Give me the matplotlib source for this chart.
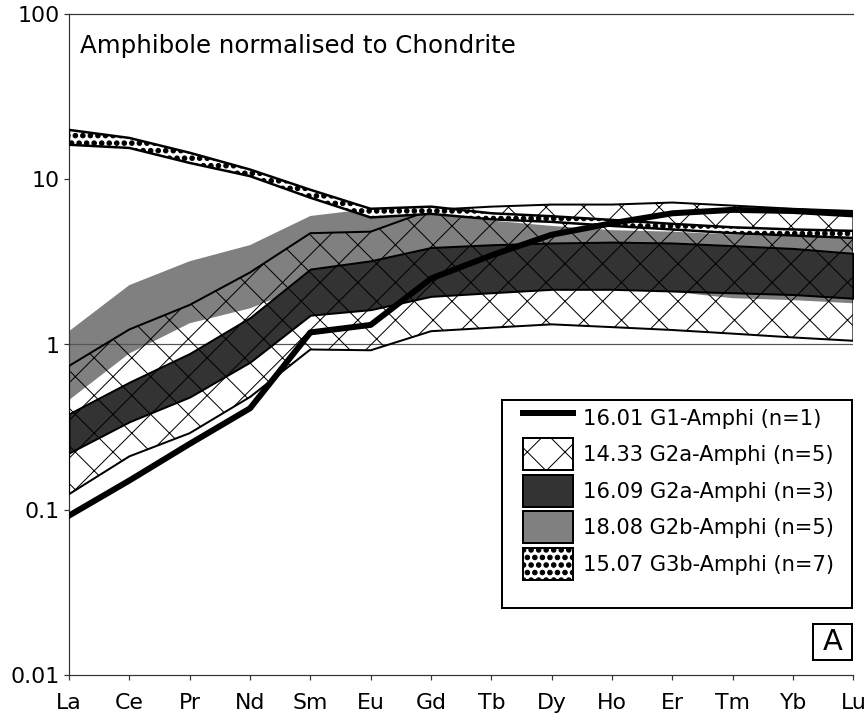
import matplotlib
matplotlib.use("Agg")
import matplotlib.pyplot as plt
import matplotlib.hatch as mhatch
import numpy as np
from matplotlib.lines import Line2D
from matplotlib.patches import Patch, Rectangle

# REE pattern, amphibole / chondrite
REE = ["La", "Ce", "Pr", "Nd", "Sm", "Eu", "Gd", "Tb", "Dy", "Ho", "Er", "Tm", "Yb", "Lu"]
YTICKS = [0.01, 0.1, 1, 10, 100]
YTICK_LABELS = ["0.01", "0.1", "1", "10", "100"]

LABELS = ["16.01 G1-Amphi (n=1)",
          "14.33 G2a-Amphi (n=5)",
          "16.09 G2a-Amphi (n=3)",
          "18.08 G2b-Amphi (n=5)",
          "15.07 G3b-Amphi (n=7)"]

# 16.01 G1 (single analysis)
g1_1601 = [0.092, 0.15, 0.25, 0.41, 1.18, 1.31, 2.5, 3.45, 4.6, 5.4, 6.2, 6.5, 6.4, 6.1]

# 14.33 G2a, min / max envelope
g2a_1433_lo = [0.124, 0.21, 0.29, 0.48, 0.93, 0.92, 1.2, 1.26, 1.32, 1.27, 1.22, 1.16, 1.1, 1.05]
g2a_1433_hi = [0.74, 1.23, 1.73, 2.72, 4.7, 4.8, 6.5, 6.8, 7.0, 7.0, 7.2, 6.9, 6.6, 6.4]

# 16.09 G2a, min / max envelope
g2a_1609_lo = [0.22, 0.34, 0.48, 0.78, 1.5, 1.62, 1.95, 2.05, 2.15, 2.15, 2.1, 2.05, 2.0, 1.9]
g2a_1609_hi = [0.38, 0.59, 0.88, 1.45, 2.85, 3.2, 3.85, 4.0, 4.1, 4.15, 4.1, 3.95, 3.8, 3.55]

# 18.08 G2b, min / max envelope
g2b_1808_lo = [0.46, 0.88, 1.34, 1.65, 2.3, 2.5, 2.5, 2.4, 2.3, 2.2, 2.08, 1.9, 1.85, 1.77]
g2b_1808_hi = [1.2, 2.28, 3.18, 3.98, 5.97, 6.6, 6.1, 5.6, 5.2, 4.9, 4.8, 4.6, 4.5, 4.45]

# 15.07 G3b, min / max envelope
g3b_1507_lo = [16.1, 15.4, 12.5, 10.4, 7.7, 5.85, 6.15, 5.7, 5.5, 5.2, 4.95, 4.7, 4.55, 4.4]
g3b_1507_hi = [19.8, 17.7, 14.4, 11.4, 8.6, 6.6, 6.8, 6.2, 5.95, 5.65, 5.35, 5.1, 4.95, 4.85]

DPI = 226          # hatch cell = 1 inch, so this sets the diamond size
PX = 72 / DPI      # one pixel in points

plt.rcParams["font.family"] = ["DejaVu Sans"]
plt.rcParams["hatch.linewidth"] = 1.0 * PX
mhatch.SmallFilledCircles.size = 0.3  # chunkier stipple dots

fig = plt.figure(figsize=(866.4 / DPI, 721.4 / DPI), dpi=DPI)
ax = fig.add_axes([69 / 866, 46 / 721, 784 / 866, 661 / 721])

x = np.arange(len(REE))

ax.fill_between(x, g2b_1808_lo, g2b_1808_hi, facecolor="#808080",
                edgecolor="none", zorder=1)
ax.axhline(1, color="#555555", lw=1.2 * PX, zorder=1.5)
ax.fill_between(x, g2a_1609_lo, g2a_1609_hi, facecolor="#333333",
                edgecolor="black", lw=2 * PX, zorder=2)
ax.fill_between(x, g2a_1433_lo, g2a_1433_hi, facecolor="none",
                edgecolor="black", hatch="xx", lw=2 * PX, zorder=3)
ax.fill_between(x, g3b_1507_lo, g3b_1507_hi, facecolor="white",
                edgecolor="black", hatch=".....", lw=2.5 * PX, zorder=4)
ax.plot(x, g1_1601, color="black", lw=6 * PX, zorder=5)

ax.set_yscale("log")
ax.set_ylim(0.01, 100)
ax.set_xlim(0, len(REE) - 1)
ax.set_yticks(YTICKS, YTICK_LABELS)
ax.yaxis.set_minor_locator(plt.NullLocator())
ax.set_xticks(x, REE)
ax.tick_params(direction="out", length=5 * PX, width=1.2 * PX, color="#333333",
               labelsize=22 * PX, pad=4 * PX)
ax.tick_params(axis="x", pad=13 * PX)

ax.spines["right"].set_visible(False)
for s in ["left", "bottom", "top"]:
    ax.spines[s].set_linewidth(1.2 * PX)
    ax.spines[s].set_color("#333333")

ax.text(11 / 784, (675 - 53) / 661, "Amphibole normalised to Chondrite",
        transform=ax.transAxes, fontsize=24.5 * PX, ha="left", va="baseline")

# legend: frame drawn separately so the box matches the original size
ax.add_patch(Rectangle((501.7 / 866, 1 - 608 / 721), 350 / 866, 208 / 721,
                       transform=fig.transFigure, facecolor="white",
                       edgecolor="black", lw=2 * PX, clip_on=False, zorder=9))
handles = [Line2D([], [], color="black", lw=6 * PX),
           Patch(facecolor="white", edgecolor="black", hatch="xx", lw=2 * PX),
           Patch(facecolor="#333333", edgecolor="black", lw=2 * PX),
           Patch(facecolor="#808080", edgecolor="black", lw=2 * PX),
           Patch(facecolor="white", edgecolor="black", hatch=".....", lw=2 * PX)]
leg = ax.legend(handles, LABELS, loc="upper left",
                bbox_to_anchor=(523 / 866, 1 - 402 / 721),
                bbox_transform=fig.transFigure, fontsize=21 * PX, frameon=False,
                handlelength=2.38, handleheight=1.967, labelspacing=0.214,
                handletextpad=0.48, borderpad=0, borderaxespad=0)
leg.set_zorder(10)

# panel letter
ax.add_patch(Rectangle(((813 - 69) / 784, (675 - 660) / 661), 39 / 784, 36 / 661,
                       transform=ax.transAxes, facecolor="white",
                       edgecolor="black", lw=2 * PX, clip_on=False, zorder=10))
ax.text((832.5 - 69) / 784, (675 - 642) / 661, "A", transform=ax.transAxes,
        fontsize=29 * PX, ha="center", va="center", zorder=11)

fig.savefig("out.png", dpi=DPI)
